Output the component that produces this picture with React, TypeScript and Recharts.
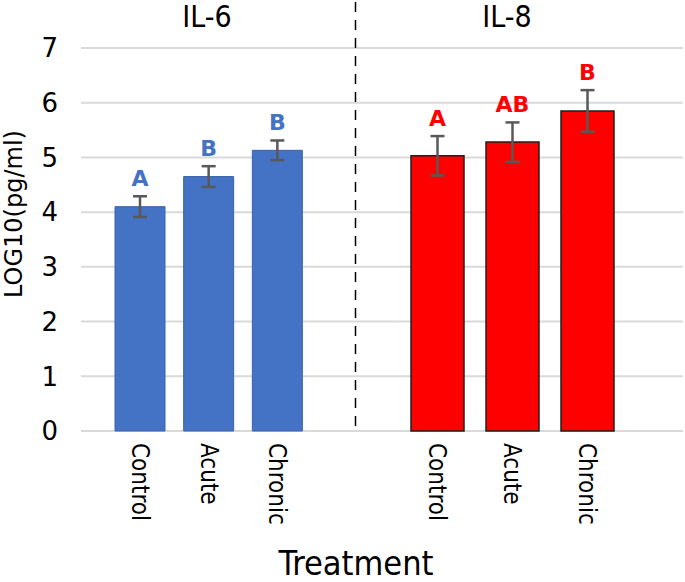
import { BarChart, Bar, XAxis, YAxis, CartesianGrid, ErrorBar, LabelList } from 'recharts';

const categories = ['Control', 'Acute', 'Chronic'];
const il6Means = [4.1, 4.65, 5.13];
const il6Err = [0.19, 0.19, 0.18];
const il6Letters = ['A', 'B', 'B'];
const il8Means = [5.03, 5.28, 5.85];
const il8Err = [0.36, 0.36, 0.38];
const il8Letters = ['A', 'AB', 'B'];
const yTicks = [0, 1, 2, 3, 4, 5, 6, 7];

const il6Data = categories.map((name, i) => ({ name, value: il6Means[i], err: il6Err[i], letter: il6Letters[i] }));
const il8Data = categories.map((name, i) => ({ name, value: il8Means[i], err: il8Err[i], letter: il8Letters[i] }));

const BLUE = '#4472C4';
const RED = '#FF0000';
const GRID = '#D9D9D9';
const CHART_H = 540;
const MARGIN_TOP = 48;
const XAXIS_H = 109;

function RotatedTick({ x, y, payload }: any) {
  return (
    <g transform={`translate(${x},${y + 12}) rotate(90)`}>
      <text
        x={0}
        y={0}
        dy="0.35em"
        textAnchor="start"
        fill="#000"
        fontSize={24}
        fontFamily="'DejaVu Sans Condensed', 'DejaVu Sans', sans-serif"
      >
        {payload.value}
      </text>
    </g>
  );
}

// letter sits above the top of the error bar
function makeLetter(means: number[], errs: number[], color: string) {
  return (props: any) => {
    const { x, y, width, height, index, value } = props;
    const ppu = height / means[index];
    const top = y - errs[index] * ppu;
    return (
      <text
        x={x + width / 2}
        y={top - 10}
        textAnchor="middle"
        fill={color}
        fontSize={22}
        fontWeight="bold"
        fontFamily="'DejaVu Sans', sans-serif"
      >
        {value}
      </text>
    );
  };
}

export default function App() {
  return (
    <div style={{ position: 'absolute', left: 0, top: 0, width: 685, height: 582, background: '#fff' }}>
      <div style={{ position: 'absolute', left: 0, top: 0 }}>
        <BarChart width={355} height={CHART_H} data={il6Data} margin={{ top: MARGIN_TOP, right: 0, bottom: 0, left: 0 }}>
          <CartesianGrid vertical={false} stroke={GRID} strokeWidth={2} />
          <YAxis
            width={81}
            domain={[0, 7]}
            ticks={yTicks}
            axisLine={false}
            tickLine={false}
            tickSize={0}
            tickMargin={23}
            tick={{ fill: '#000', fontSize: 26, fontFamily: "'DejaVu Sans', sans-serif" }}
          />
          <XAxis
            dataKey="name"
            height={XAXIS_H}
            axisLine={false}
            tickLine={false}
            tickSize={0}
            tickMargin={0}
            padding={{ left: 25, right: 43 }}
            interval={0}
            tick={<RotatedTick />}
          />
          <Bar dataKey="value" fill={BLUE} stroke="#3A62AA" strokeWidth={1} barSize={50} isAnimationActive={false}>
            <ErrorBar dataKey="err" width={7} stroke="#595959" strokeWidth={2.5} direction="y" />
            <LabelList dataKey="letter" content={makeLetter(il6Means, il6Err, BLUE)} />
          </Bar>
        </BarChart>
      </div>
      <div style={{ position: 'absolute', left: 355, top: 0 }}>
        <BarChart width={330} height={CHART_H} data={il8Data} margin={{ top: MARGIN_TOP, right: 2, bottom: 0, left: 0 }}>
          <CartesianGrid vertical={false} stroke={GRID} strokeWidth={2} />
          <YAxis hide width={0} domain={[0, 7]} ticks={yTicks} />
          <XAxis
            dataKey="name"
            height={XAXIS_H}
            axisLine={false}
            tickLine={false}
            tickSize={0}
            tickMargin={0}
            padding={{ left: 45, right: 58 }}
            interval={0}
            tick={<RotatedTick />}
          />
          <Bar dataKey="value" fill={RED} stroke="#1F1F1F" strokeWidth={1.5} barSize={53} isAnimationActive={false}>
            <ErrorBar dataKey="err" width={7} stroke="#595959" strokeWidth={2.5} direction="y" />
            <LabelList dataKey="letter" content={makeLetter(il8Means, il8Err, RED)} />
          </Bar>
        </BarChart>
      </div>
      <svg width={685} height={582} style={{ position: 'absolute', left: 0, top: 0, pointerEvents: 'none' }}>
        <line x1={355.5} y1={2} x2={355.5} y2={431} stroke="#000" strokeWidth={1.5} strokeDasharray="10 8" />
        <text x={207} y={27} textAnchor="middle" fontSize={30} fill="#000" fontFamily="'DejaVu Sans Condensed', 'DejaVu Sans', sans-serif">
          IL-6
        </text>
        <text x={507} y={27} textAnchor="middle" fontSize={30} fill="#000" fontFamily="'DejaVu Sans Condensed', 'DejaVu Sans', sans-serif">
          IL-8
        </text>
        <text
          transform="translate(14,214) rotate(-90)"
          textAnchor="middle"
          dy="0.35em"
          fontSize={24}
          fill="#000"
          fontFamily="'DejaVu Sans', sans-serif"
        >
          LOG10(pg/ml)
        </text>
        <text x={356} y={575} textAnchor="middle" fontSize={34} fill="#000" fontFamily="'DejaVu Sans Condensed', 'DejaVu Sans', sans-serif">
          Treatment
        </text>
      </svg>
    </div>
  );
}
